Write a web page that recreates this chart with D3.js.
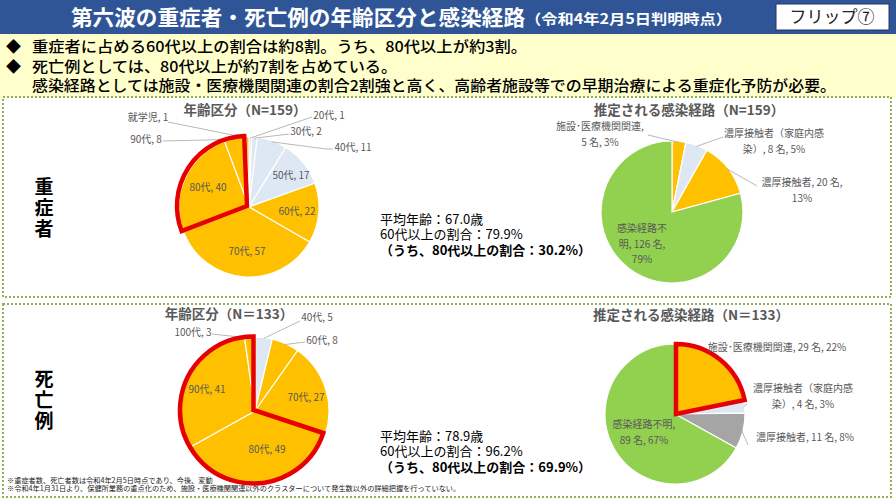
<!DOCTYPE html>
<html>
<head>
<meta charset="utf-8">
<script src="https://cdn.jsdelivr.net/npm/d3@7"></script>
<style>
  html, body { margin: 0; padding: 0; background: #fff; }
  svg { display: block; font-family: "Noto Sans CJK JP", "Noto Sans", sans-serif; }
</style>
</head>
<body>
<div id="chart"></div>
<script>
const AMBER = "#FFC000", BLUE = "#DEE8F4", GREEN = "#92D050", GRAY = "#A5A5A5", RED = "#E60000";

const svg = d3.select("#chart").append("svg").attr("width", 896).attr("height", 504);

// One text element with a tspan per line, so block lines stay together
function multiline(x, y, lines, lineHeight) {
    const t = svg.append("text").attr("x", x).attr("y", y);
    lines.forEach((line, i) => {
        t.append("tspan").attr("x", x).attr("y", y + i * lineHeight).text(line);
    });
    return t;
}

// Header
svg.append("rect").attr("width", 896).attr("height", 34).attr("fill", "#2F5597");
svg.append("rect").attr("y", 34).attr("width", 896).attr("height", 64).attr("fill", "#FFFFCC");
svg.append("text").attr("x", 71).attr("y", 25).attr("font-size", 21).attr("font-weight", 700).attr("fill", "#fff")
    .attr("textLength", 454).attr("lengthAdjust", "spacingAndGlyphs")
    .text("第六波の重症者・死亡例の年齢区分と感染経路");
svg.append("text").attr("x", 525).attr("y", 24).attr("font-size", 14).attr("font-weight", 700).attr("fill", "#fff")
    .attr("textLength", 207).attr("lengthAdjust", "spacingAndGlyphs")
    .text("（令和4年2月5日判明時点）");
svg.append("rect").attr("x", 776).attr("y", 4).attr("width", 113).attr("height", 26)
    .attr("fill", "#fff").attr("stroke", "#1F3864");
svg.append("text").attr("x", 832).attr("y", 23).attr("text-anchor", "middle").attr("font-size", 17).attr("fill", "#222")
    .text("フリップ⑦");

// Bullets
const bullets = [
    { mark: true, y: 52, w: 495, text: "重症者に占める60代以上の割合は約8割。うち、80代以上が約3割。" },
    { mark: true, y: 72, w: 365, text: "死亡例としては、80代以上が約7割を占めている。" },
    { mark: false, y: 91, w: 804, text: "感染経路としては施設・医療機関関連の割合2割強と高く、高齢者施設等での早期治療による重症化予防が必要。" },
];
bullets.forEach((b) => {
    if (b.mark) {
        svg.append("text").attr("x", 6).attr("y", b.y).attr("font-size", 15).attr("fill", "#000").text("◆");
    }
    svg.append("text").attr("x", 32).attr("y", b.y).attr("font-size", 15).attr("font-weight", 500)
        .attr("textLength", b.w).attr("lengthAdjust", "spacingAndGlyphs")
        .attr("fill", "#000").text(b.text);
});

// Panels
[[97, 200], [304, 193]].forEach(([y, h]) => {
    svg.append("rect").attr("x", 3).attr("y", y).attr("width", 888).attr("height", h)
        .attr("fill", "#fff").attr("stroke", "#8DB255").attr("stroke-width", 2).attr("stroke-dasharray", "2 2");
});

// Section labels, set vertically
[
    { chars: "重症者", y: 177 },
    { chars: "死亡例", y: 369 },
].forEach((s) => {
    svg.append("text").attr("x", 44).attr("y", s.y)
        .attr("writing-mode", "vertical-rl").attr("letter-spacing", 2)
        .attr("font-size", 19).attr("font-weight", 700).attr("fill", "#000").text(s.chars);
});

// Pie charts
const charts = [
    {
        title: "年齢区分（N=159）", titleX: 245, titleY: 115,
        cx: 249, cy: 207, r: 70,
        red: { from: 6, to: 7, cx: 247, cy: 206, r: 70 },
        data: [
            { v: 1, c: BLUE, label: ["20代, 1"], x: 329, y: 119, leader: [[312, 117]] },
            { v: 2, c: BLUE, label: ["30代, 2"], x: 306, y: 135, leader: [[289, 134]] },
            { v: 11, c: BLUE, label: ["40代, 11"], x: 353, y: 151, leader: [[326, 149], [333, 149]] },
            { v: 17, c: BLUE, label: ["50代, 17"], x: 291, y: 179 },
            { v: 22, c: AMBER, label: ["60代, 22"], x: 297, y: 215 },
            { v: 57, c: AMBER, label: ["70代, 57"], x: 247, y: 255 },
            { v: 40, c: AMBER, label: ["80代, 40"], x: 208, y: 191 },
            { v: 8, c: AMBER, label: ["90代, 8"], x: 146, y: 143, leader: [[163, 141]] },
            { v: 1, c: AMBER, label: ["就学児, 1"], x: 148, y: 121, leader: [[168, 122]] },
        ],
    },
    {
        title: "推定される感染経路（N=159）", titleX: 689, titleY: 115,
        cx: 672, cy: 212, r: 71,
        data: [
            { v: 5, c: AMBER, label: ["施設･医療機関関連,", "5 名, 3%"], x: 600, y: 130, leader: [[648, 135]] },
            { v: 8, c: BLUE, label: ["濃厚接触者（家庭内感", "染）, 8 名, 5%"], x: 774, y: 137, leader: [[723, 137]] },
            { v: 20, c: AMBER, label: ["濃厚接触者, 20 名,", "13%"], x: 802, y: 186, leader: [[757, 186]] },
            { v: 126, c: GREEN, label: ["感染経路不", "明, 126 名,", "79%"], x: 642, y: 232 },
        ],
    },
    {
        title: "年齢区分（N＝133）", titleX: 229, titleY: 319,
        cx: 255, cy: 411, r: 74,
        red: { from: 3, to: 5, cx: 253.5, cy: 410, r: 73.5 },
        data: [
            { v: 5, c: BLUE, label: ["40代, 5"], x: 317, y: 321, leader: [[300, 321]] },
            { v: 8, c: AMBER, label: ["60代, 8"], x: 322, y: 344, leader: [[305, 342]] },
            { v: 27, c: AMBER, label: ["70代, 27"], x: 306, y: 401 },
            { v: 49, c: AMBER, label: ["80代, 49"], x: 267, y: 453 },
            { v: 41, c: AMBER, label: ["90代, 41"], x: 207, y: 393 },
            { v: 3, c: AMBER, label: ["100代, 3"], x: 193, y: 336, leader: [[212, 334]] },
        ],
    },
    {
        title: "推定される感染経路（N＝133）", titleX: 691, titleY: 320,
        cx: 675, cy: 414, r: 70,
        red: { from: 0, to: 0, cx: 676, cy: 414, r: 70 },
        data: [
            { v: 29, c: AMBER, label: ["施設･医療機関関連, 29 名, 22%"], x: 777, y: 351 },
            { v: 4, c: BLUE, label: ["濃厚接触者（家庭内感", "染）, 4 名, 3%"], x: 803, y: 392, leader: [[747, 404]] },
            { v: 11, c: GRAY, label: ["濃厚接触者, 11 名, 8%"], x: 805, y: 441, leader: [[748, 445]] },
            { v: 89, c: GREEN, label: ["感染経路不明,", "89 名, 67%"], x: 644, y: 428 },
        ],
    },
];

const pie = d3.pie().value((d) => d.v).sort(null);

charts.forEach((chart) => {
    const g = svg.append("g").attr("transform", `translate(${chart.cx},${chart.cy})`);
    const arcs = pie(chart.data);
    const arc = d3.arc().innerRadius(0).outerRadius(chart.r);

    svg.append("text").attr("x", chart.titleX).attr("y", chart.titleY).attr("text-anchor", "middle")
        .attr("font-size", 13.5).attr("font-weight", 700).attr("fill", "#595959").text(chart.title);

    g.selectAll("path.slice")
        .data(arcs)
        .enter()
        .append("path")
        .attr("class", "slice")
        .attr("d", arc)
        .attr("fill", (d) => d.data.c)
        .attr("stroke", "#fff")
        .attr("stroke-width", 1.2);

    // Leader lines go from the rim of the slice out to the label
    const rim = d3.arc().innerRadius(chart.r - 1).outerRadius(chart.r - 1);
    arcs.filter((d) => d.data.leader).forEach((d) => {
        const [px, py] = rim.centroid(d);
        const pts = [[px + chart.cx, py + chart.cy], ...d.data.leader];
        svg.append("path").attr("d", d3.line()(pts)).attr("fill", "none")
            .attr("stroke", "#A6A6A6").attr("stroke-width", 0.8);
    });

    // Red outline around the highlighted slices
    if (chart.red) {
        const start = arcs[chart.red.from].startAngle;
        const end = arcs[chart.red.to].endAngle;
        svg.append("path")
            .attr("transform", `translate(${chart.red.cx},${chart.red.cy})`)
            .attr("d", d3.arc().innerRadius(0).outerRadius(chart.red.r).startAngle(start).endAngle(end)())
            .attr("fill", "none").attr("stroke", RED).attr("stroke-width", 4.5);
    }

    arcs.forEach((d) => {
        multiline(d.data.x, d.data.y, d.data.label, 15.5)
            .attr("text-anchor", "middle").attr("font-size", 10).attr("fill", "#595959");
    });
});

// Summary stats
[
    { x: 380, y: 224, lines: ["平均年齢：67.0歳", "60代以上の割合：79.9%"], note: "（うち、80代以上の割合：30.2%）" },
    { x: 380, y: 441, lines: ["平均年齢：78.9歳", "60代以上の割合：96.2%"], note: "（うち、80代以上の割合：69.9%）" },
].forEach((s) => {
    const t = multiline(s.x, s.y, s.lines, 15).attr("font-size", 13).attr("fill", "#000");
    t.append("tspan").attr("x", s.x).attr("y", s.y + 31).attr("font-weight", 700).text(s.note);
});

// Footnotes
multiline(7, 483, [
    "※重症者数、死亡者数は令和4年2月5日時点であり、今後、変動",
    "※令和4年1月31日より、保健所業務の重点化のため、施設・医療機関関連以外のクラスターについて発生数以外の詳細把握を行っていない。",
], 8).attr("font-size", 7.2).attr("fill", "#222");
</script>
</body>
</html>
